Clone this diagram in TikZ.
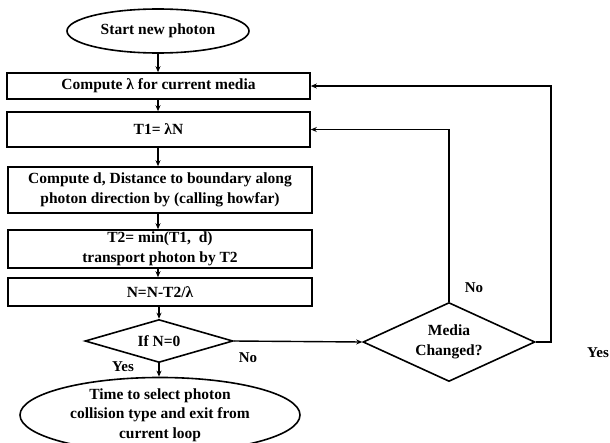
\documentclass[tikz,border=0pt]{standalone}
\usepackage{fontspec}
\setmainfont{Liberation Serif}
\usetikzlibrary{shapes.geometric,arrows.meta}
\begin{document}
\begin{tikzpicture}[x=1pt,y=-1pt,
  every node/.style={font=\fontsize{15.5}{19.5}\selectfont\bfseries, inner sep=0pt},
  box/.style={draw, line width=1.6pt, rectangle, align=center},
  oval/.style={draw, line width=1.6pt, ellipse, align=center},
  dia/.style={draw, line width=1.6pt, diamond, align=center},
  arr/.style={line width=1.4pt, -{Stealth[length=6pt,width=5pt]}},
  lbl/.style={font=\fontsize{15}{17}\selectfont\bfseries}]
\useasboundingbox (0,0) rectangle (610,442);
\node[oval, minimum width=182, minimum height=44] (start) at (158,31) {Start new photon};
\node[box, minimum width=303, minimum height=26] (b1) at (158.5,86) {Compute λ for current media};
\node[box, minimum width=303, minimum height=35] (b2) at (158.5,129.5) {T1= λN};
\node[box, minimum width=304, minimum height=46] (b3) at (160,190) {Compute d, Distance to boundary along\\photon direction by (calling howfar)};
\node[box, minimum width=304, minimum height=38] (b4) at (160,249) {T2= min(T1, \ d)\\transport photon by T2};
\node[box, minimum width=304, minimum height=28] (b5) at (160,292) {N=N-T2/λ};
\node[dia, aspect=3.44, minimum width=148, minimum height=43] (d1) at (159,341) {If N=0};
\node[dia, aspect=2.18, minimum width=172, minimum height=79] (d2) at (449,342) {Media\\Changed?};
\node[oval, minimum width=280, minimum height=72] (end) at (160,415) {Time to select photon\\collision type and exit from\\current loop};
\coordinate (yc) at (551,342);
\draw[arr] (start.south) -- (b1.north -| start.south);
\draw[arr] (b1.south -| start.south) -- (b2.north -| start.south);
\draw[arr] (b2.south -| start.south) -- (b3.north -| start.south);
\draw[arr] (b3.south -| start.south) -- (b4.north -| start.south);
\draw[arr] (b4.south -| start.south) -- (b5.north -| start.south);
\draw[arr] (b5.south -| d1.north) -- (d1.north);
\draw[arr] (d1.south) -- (end.north -| d1.south);
\draw[arr] (d1.east) -- (d2.west);
\draw[arr] (d2.north) |- (b2.east);
\draw[arr] (d2.east) -- (yc) |- (b1.east);
\node[lbl] (yes1) at (123,367) {Yes};
\node[lbl] (no1) at (248,358) {No};
\node[lbl] (no2) at (474,288) {No};
\node[lbl] (yes2) at (598,353) {Yes};
\end{tikzpicture}
\end{document}
